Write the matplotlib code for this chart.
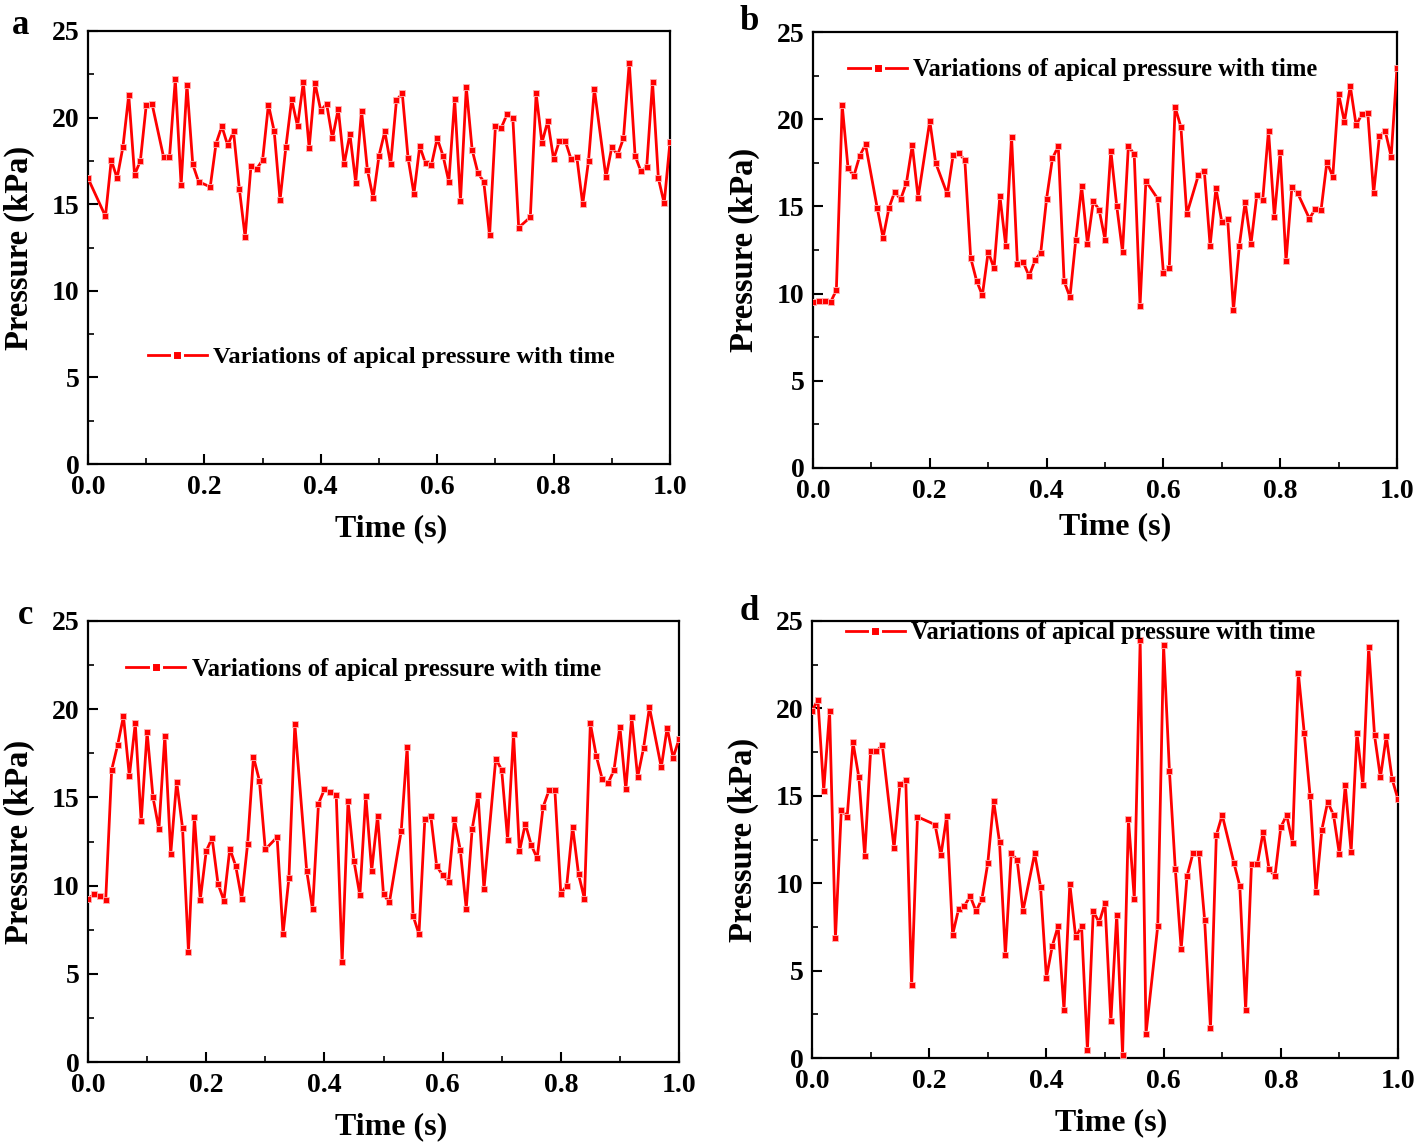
import matplotlib
matplotlib.use("Agg")
import matplotlib.pyplot as plt
from matplotlib.ticker import MultipleLocator, FormatStrFormatter

# ---------------- data ----------------
time_a = [0.00, 0.03, 0.04, 0.05, 0.06, 0.07, 0.08, 0.09, 0.10, 0.11,
          0.13, 0.14, 0.15, 0.16, 0.17, 0.18, 0.19,
          0.21, 0.22, 0.23, 0.24, 0.25, 0.26, 0.27, 0.28, 0.29, 0.30,
          0.31, 0.32, 0.33, 0.34, 0.35, 0.36, 0.37, 0.38, 0.39, 0.40,
          0.41, 0.42, 0.43, 0.44, 0.45, 0.46, 0.47, 0.48, 0.49, 0.50,
          0.51, 0.52, 0.53, 0.54, 0.55, 0.56, 0.57, 0.58, 0.59, 0.60,
          0.61, 0.62, 0.63, 0.64, 0.65, 0.66, 0.67, 0.68, 0.69, 0.70,
          0.71, 0.72, 0.73, 0.74,
          0.76, 0.77, 0.78, 0.79, 0.80, 0.81, 0.82, 0.83, 0.84, 0.85, 0.86, 0.87,
          0.89, 0.90, 0.91, 0.92, 0.93, 0.94, 0.95, 0.96, 0.97, 0.98, 0.99, 1.00]
pressure_a = [16.5, 14.3, 17.55, 16.5, 18.3, 21.3, 16.7, 17.5, 20.7, 20.8,
              17.7, 17.7, 22.2, 16.1, 21.9, 17.3, 16.3,
              16.0, 18.5, 19.5, 18.4, 19.2, 15.9, 13.1, 17.2, 17.05, 17.55,
              20.75, 19.2, 15.25, 18.3, 21.05, 19.5, 22.05, 18.25, 22.0, 20.4,
              20.8, 18.8, 20.5, 17.3, 19.05, 16.25, 20.4, 17.0, 15.35, 17.8,
              19.2, 17.3, 21.0, 21.4, 17.65, 15.6, 18.35, 17.35, 17.25, 18.8,
              17.8, 16.3, 21.05, 15.2, 21.75, 18.15, 16.8, 16.3, 13.2, 19.5,
              19.4, 20.2, 19.95, 13.65,
              14.25, 21.4, 18.55, 19.8, 17.6, 18.65, 18.65, 17.6, 17.7, 15.0, 17.5, 21.65,
              16.55, 18.3, 17.85, 18.8, 23.15, 17.8, 16.9, 17.15, 22.05, 16.5, 15.05, 18.6]

time_b = [0.00, 0.01, 0.02, 0.03, 0.04, 0.05, 0.06, 0.07, 0.08, 0.09,
          0.11, 0.12, 0.13, 0.14, 0.15, 0.16, 0.17, 0.18,
          0.20, 0.21,
          0.23, 0.24, 0.25, 0.26, 0.27, 0.28, 0.29, 0.30,
          0.31, 0.32, 0.33, 0.34, 0.35, 0.36, 0.37, 0.38, 0.39, 0.40,
          0.41, 0.42, 0.43, 0.44, 0.45, 0.46, 0.47, 0.48, 0.49, 0.50,
          0.51, 0.52, 0.53, 0.54, 0.55, 0.56, 0.57,
          0.59, 0.60, 0.61, 0.62, 0.63, 0.64,
          0.66, 0.67, 0.68, 0.69, 0.70, 0.71, 0.72, 0.73, 0.74, 0.75,
          0.76, 0.77, 0.78, 0.79, 0.80, 0.81, 0.82, 0.83,
          0.85, 0.86, 0.87, 0.88, 0.89, 0.90, 0.91, 0.92, 0.93, 0.94,
          0.95, 0.96, 0.97, 0.98, 0.99, 1.00]
pressure_b = [9.53, 9.6, 9.57, 9.5, 10.2, 20.8, 17.2, 16.75, 17.9, 18.55,
              14.9, 13.2, 14.9, 15.85, 15.4, 16.35, 18.5, 15.5,
              19.9, 17.5,
              15.7, 17.95, 18.05, 17.65, 12.05, 10.75, 9.9, 12.4,
              11.45, 15.6, 12.75, 19.0, 11.7, 11.8, 11.0, 11.9, 12.35, 15.45,
              17.75, 18.45, 10.7, 9.8, 13.1, 16.15, 12.85, 15.3, 14.8, 13.1,
              18.2, 15.05, 12.4, 18.45, 18.0, 9.3, 16.45,
              15.45, 11.2, 11.45, 20.7, 19.55, 14.55,
              16.8, 17.05, 12.75, 16.05, 14.1, 14.3, 9.05, 12.75, 15.25, 12.85,
              15.65, 15.35, 19.35, 14.4, 18.1, 11.85, 16.1, 15.75,
              14.3, 14.85, 14.8, 17.55, 16.7, 21.45, 19.85, 21.9, 19.65, 20.3,
              20.35, 15.75, 19.05, 19.3, 17.85, 22.95]

time_c = [0.00, 0.01, 0.02, 0.03, 0.04, 0.05, 0.06, 0.07, 0.08, 0.09, 0.10,
          0.11, 0.12, 0.13, 0.14, 0.15, 0.16, 0.17, 0.18, 0.19, 0.20,
          0.21, 0.22, 0.23, 0.24, 0.25, 0.26, 0.27, 0.28, 0.29, 0.30,
          0.32, 0.33, 0.34, 0.35,
          0.37, 0.38, 0.39, 0.40, 0.41, 0.42, 0.43, 0.44, 0.45, 0.46,
          0.47, 0.48, 0.49, 0.50, 0.51,
          0.53, 0.54, 0.55, 0.56, 0.57, 0.58, 0.59, 0.60, 0.61, 0.62,
          0.63, 0.64, 0.65, 0.66, 0.67,
          0.69, 0.70, 0.71, 0.72, 0.73, 0.74, 0.75, 0.76, 0.77, 0.78,
          0.79, 0.80, 0.81, 0.82, 0.83, 0.84, 0.85, 0.86, 0.87, 0.88,
          0.89, 0.90, 0.91, 0.92, 0.93, 0.94, 0.95,
          0.97, 0.98, 0.99, 1.00]
pressure_c = [9.25, 9.5, 9.4, 9.2, 16.55, 17.95, 19.6, 16.2, 19.2, 13.65, 18.7,
              15.0, 13.2, 18.5, 11.8, 15.9, 13.25, 6.25, 13.9, 9.2, 11.95,
              12.7, 10.1, 9.15, 12.1, 11.1, 9.25, 12.35, 17.3, 15.95, 12.05,
              12.75, 7.25, 10.45, 19.15,
              10.85, 8.65, 14.65, 15.45, 15.3, 15.15, 5.65, 14.8, 11.4, 9.45,
              15.1, 10.85, 13.95, 9.5, 9.05,
              13.1, 17.85, 8.3, 7.25, 13.8, 13.95, 11.1, 10.6, 10.2, 13.75,
              12.0, 8.7, 13.2, 15.15, 9.8,
              17.2, 16.55, 12.6, 18.6, 11.95, 13.5, 12.3, 11.55, 14.45, 15.4,
              15.4, 9.55, 10.0, 13.35, 10.65, 9.25, 19.2, 17.35, 16.05, 15.8,
              16.55, 19.0, 15.45, 19.55, 16.15, 17.8, 20.1,
              16.7, 18.95, 17.25, 18.3]

time_d = [0.00, 0.01, 0.02, 0.03, 0.04, 0.05, 0.06, 0.07, 0.08, 0.09, 0.10,
          0.11, 0.12,
          0.14, 0.15, 0.16, 0.17, 0.18,
          0.21, 0.22, 0.23, 0.24, 0.25, 0.26, 0.27, 0.28, 0.29, 0.30,
          0.31, 0.32, 0.33, 0.34, 0.35, 0.36,
          0.38, 0.39, 0.40, 0.41, 0.42, 0.43, 0.44, 0.45, 0.46, 0.47,
          0.48, 0.49, 0.50, 0.51, 0.52, 0.53, 0.54, 0.55, 0.56, 0.57,
          0.59, 0.60, 0.61, 0.62, 0.63, 0.64, 0.65, 0.66, 0.67, 0.68,
          0.69, 0.70,
          0.72, 0.73, 0.74, 0.75, 0.76, 0.77, 0.78, 0.79, 0.80, 0.81,
          0.82, 0.83, 0.84, 0.85, 0.86, 0.87, 0.88, 0.89, 0.90, 0.91,
          0.92, 0.93, 0.94, 0.95, 0.96, 0.97, 0.98, 0.99, 1.00]
pressure_d = [19.85, 20.5, 15.3, 19.85, 6.85, 14.2, 13.8, 18.05, 16.05, 11.55, 17.55,
              17.55, 17.9,
              12.0, 15.65, 15.9, 4.15, 13.8,
              13.35, 11.6, 13.85, 7.05, 8.5, 8.7, 9.25, 8.4, 9.1, 11.15,
              14.7, 12.35, 5.9, 11.7, 11.35, 8.4,
              11.7, 9.8, 4.6, 6.4, 7.55, 2.75, 9.95, 6.9, 7.55, 0.45,
              8.4, 7.75, 8.85, 2.1, 8.2, 0.2, 13.65, 9.1, 23.9, 1.4,
              7.55, 23.6, 16.4, 10.8, 6.25, 10.4, 11.7, 11.75, 7.9, 1.7,
              12.75, 13.9,
              11.15, 9.85, 2.75, 11.1, 11.1, 12.95, 10.8, 10.4, 13.2, 13.9,
              12.3, 22.0, 18.6, 15.0, 9.5, 13.05, 14.65, 13.9, 11.65, 15.6,
              11.8, 18.6, 15.6, 23.5, 18.45, 16.05, 18.4, 15.95, 14.8]

panel_letters = ["a", "b", "c", "d"]
legend_label = "Variations of apical pressure with time"
x_label = "Time (s)"
y_label = "Pressure (kPa)"

# ---------------- style ----------------
plt.rcParams["font.family"] = ["Liberation Serif", "DejaVu Serif"]
plt.rcParams["font.weight"] = "bold"
plt.rcParams["axes.labelweight"] = "bold"

W, H = 1419, 1145
fig = plt.figure(figsize=(W / 100, H / 100), dpi=100)

def box(l, t, r, b):
    return [l / W, 1 - b / H, (r - l) / W, (b - t) / H]

# rect, times, values, legend anchor, legend font size, letter pos, xlabel x, xlabel pad
panels = [
    (box(88, 31, 670, 464), time_a, pressure_a, (0.103, 0.247), 17.6, (12, 25), 0.521, 10),
    (box(813, 32, 1397, 468), time_b, pressure_b, (0.060, 0.913), 17.7, (740, 22), 0.517, 6),
    (box(88, 621, 679, 1062), time_c, pressure_c, (0.064, 0.891), 17.9, (18, 615), 0.513, 10),
    (box(812, 621, 1398, 1058), time_d, pressure_d, (0.058, 0.973), 17.7, (740, 612), 0.510, 10),
]

red = "#ff0000"
for (rect, tx, py, leg_xy, leg_fs, letter_xy, xlab_x, xlab_pad), letter in zip(panels, panel_letters):
    ax = fig.add_axes(rect)
    ax.plot(tx, py, color=red, lw=2.0, marker="s", ms=5.0,
            mec="#ffb3b3", mew=0.6, mfc=red, label=legend_label, zorder=3)
    ax.set_xlim(0, 1.0)
    ax.set_ylim(0, 25)
    ax.xaxis.set_major_locator(MultipleLocator(0.2))
    ax.xaxis.set_minor_locator(MultipleLocator(0.1))
    ax.yaxis.set_major_locator(MultipleLocator(5))
    ax.yaxis.set_minor_locator(MultipleLocator(2.5))
    ax.xaxis.set_major_formatter(FormatStrFormatter("%.1f"))
    ax.yaxis.set_major_formatter(FormatStrFormatter("%d"))
    ax.tick_params(which="major", direction="in", length=7, width=1.5,
                   labelsize=20, pad=6)
    ax.tick_params(which="minor", direction="in", length=4, width=1.2)
    ax.tick_params(axis="x", which="major", pad=8)
    for s in ax.spines.values():
        s.set_linewidth(1.6)
    for lab in ax.get_xticklabels() + ax.get_yticklabels():
        lab.set_fontweight("bold")
    ax.set_xlabel(x_label, fontsize=23, fontweight="bold", labelpad=xlab_pad)
    ax.xaxis.label.set_x(xlab_x)
    ax.set_ylabel(y_label, fontsize=23.5, fontweight="bold", labelpad=12)
    leg = ax.legend(loc="center left", bbox_to_anchor=leg_xy, frameon=False,
                    borderpad=0, borderaxespad=0, handlelength=2.4,
                    handletextpad=0.25, prop={"size": leg_fs, "weight": "bold"})
    for h in leg.legend_handles:
        h.set_markersize(6.5)
        h.set_markeredgecolor("white")
        h.set_markeredgewidth(2.2)
    fig.text(letter_xy[0] / W, 1 - letter_xy[1] / H, letter, fontsize=25,
             fontweight="bold", ha="left", va="center")

fig.savefig("out.png", dpi=100)
